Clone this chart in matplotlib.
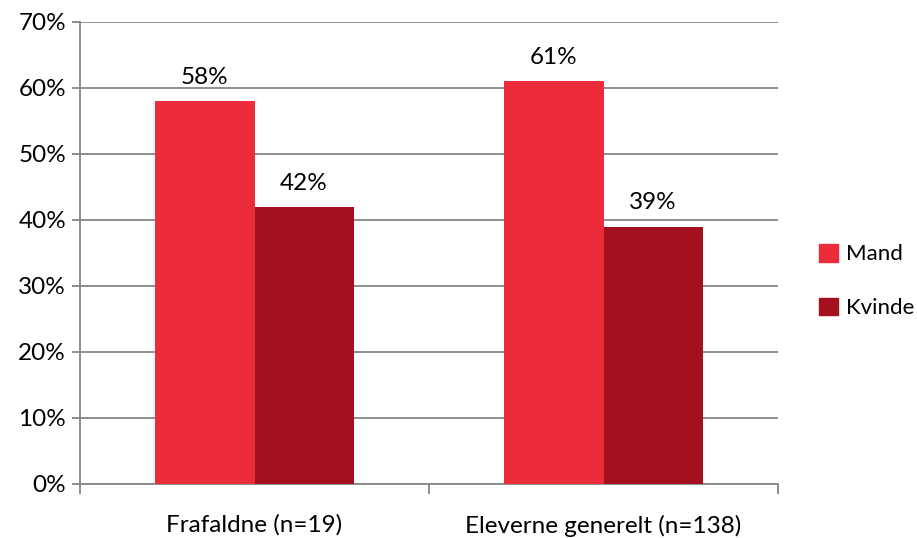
import matplotlib.pyplot as plt
import numpy as np
from matplotlib.patches import Patch

### data
categories = ["Frafaldne (n=19)", "Eleverne generelt (n=138)"]
mand = [58, 61]
kvinde = [42, 39]
series_names = ["Mand", "Kvinde"]
colors = ["#EC2B3B", "#A3111E"]

plt.rcParams['font.family'] = ['Lato', 'DejaVu Sans']
FS = 17.5

fig = plt.figure(figsize=(9.17, 5.38), dpi=100)
ax = fig.add_axes([80/917, 1-484/538, (778-80)/917, (484-22)/538])

x = np.arange(len(categories))
w = 0.284
b1 = ax.bar(x - w/2, mand, w, color=colors[0], zorder=3)
b2 = ax.bar(x + w/2, kvinde, w, color=colors[1], zorder=3)

# value labels above bars
for bars in (b1, b2):
    for r in bars:
        ax.text(r.get_x() + r.get_width()/2, r.get_height() + 2.0, f"{r.get_height():.0f}%",
                ha='center', va='bottom', fontsize=FS)

ax.set_xlim(-0.5, 1.5)
ax.set_ylim(0, 70)
ax.set_yticks(range(0, 71, 10))
ax.set_yticklabels([f"{v}%" for v in range(0, 71, 10)], fontsize=FS)
ax.yaxis.grid(True, color='#868686', linewidth=1.3, zorder=0)
ax.tick_params(axis='y', length=6, width=1.3, color='#868686', pad=4)

# category ticks at boundaries, labels centered
ax.set_xticks([-0.5, 0.5, 1.5])
ax.set_xticklabels([])
ax.set_xticks(x, minor=True)
ax.set_xticklabels(categories, minor=True, fontsize=FS)
ax.tick_params(axis='x', which='major', length=7, width=1.3, color='#868686')
ax.tick_params(axis='x', which='minor', length=0, pad=22)

for s in ['top', 'right']:
    ax.spines[s].set_visible(False)
for s in ['left', 'bottom']:
    ax.spines[s].set_color('#868686')
    ax.spines[s].set_linewidth(1.3)

handles = [Patch(color=c) for c in colors]
fig.legend(handles, series_names, loc='center left', bbox_to_anchor=(819/917, 1-281/538),
           frameon=False, fontsize=16, handlelength=0.85, handleheight=0.85,
           handletextpad=0.35, labelspacing=1.5, borderpad=0, borderaxespad=0)

fig.savefig("out.png", dpi=100)
